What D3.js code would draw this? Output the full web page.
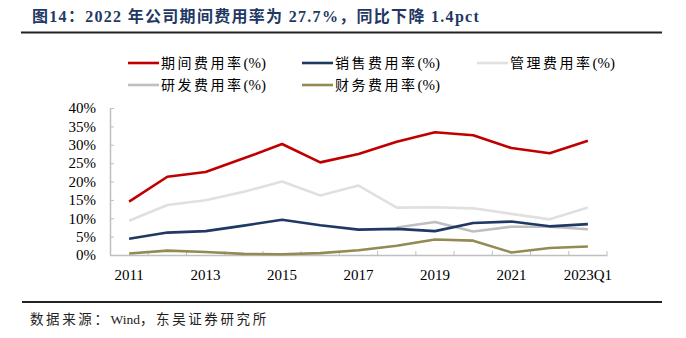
<!DOCTYPE html>
<html>
<head>
<meta charset="utf-8">
<script src="https://cdn.jsdelivr.net/npm/d3@7"></script>
<style>
  body { margin: 0; background: #fff; }
  svg { display: block; }
</style>
</head>
<body>
<div id="chart"></div>
<script>
// Data
const categories = ["2011", "2012", "2013", "2014", "2015", "2016", "2017", "2018", "2019", "2020", "2021", "2022", "2023Q1"];
const tickLabels = ["2011", "2013", "2015", "2017", "2019", "2021", "2023Q1"];
const yTicks = [0, 5, 10, 15, 20, 25, 30, 35, 40];

const periodRate = [14.5, 21.3, 22.6, 26.3, 30.2, 25.2, 27.5, 30.8, 33.4, 32.6, 29.1, 27.7, 31.1];
const salesRate = [4.4, 6.1, 6.5, 8.0, 9.6, 8.1, 6.9, 7.1, 6.5, 8.7, 9.1, 7.8, 8.4];
const mgmtRate = [9.3, 13.6, 14.9, 17.2, 20.0, 16.2, 18.9, 12.9, 13.0, 12.7, 11.2, 9.7, 12.9];
const rdRate = [null, null, null, null, null, null, null, 7.5, 9.0, 6.4, 7.7, 7.7, 7.0];
const finRate = [0.4, 1.2, 0.8, 0.3, 0.2, 0.5, 1.3, 2.5, 4.2, 3.9, 0.7, 1.9, 2.3];

const series = [
  { name: "期间费用率", values: periodRate, color: "#c00000" },
  { name: "销售费用率", values: salesRate, color: "#1f3864" },
  { name: "管理费用率", values: mgmtRate, color: "#e0e0e0" },
  { name: "研发费用率", values: rdRate, color: "#bfbfbf" },
  { name: "财务费用率", values: finRate, color: "#948a54" }
];

const W = 686, H = 338;
const serif = "'Liberation Serif', 'Noto Sans CJK SC', serif";
const cjk = "'Liberation Serif', 'Noto Sans CJK SC', sans-serif";

const svg = d3.select("#chart").append("svg")
  .attr("width", W)
  .attr("height", H);

// Title and rules
svg.append("text")
  .attr("x", 32).attr("y", 22)
  .attr("fill", "#1f3864")
  .style("font-family", cjk)
  .style("font-weight", "bold")
  .style("font-size", "16px")
  .style("letter-spacing", "1.3px")
  .text("图14：2022 年公司期间费用率为 27.7%，同比下降 1.4pct");

svg.append("line")
  .attr("x1", 21).attr("x2", 662).attr("y1", 32.5).attr("y2", 32.5)
  .attr("stroke", "#222").attr("stroke-width", 2);

svg.append("line")
  .attr("x1", 22).attr("x2", 662).attr("y1", 302).attr("y2", 302)
  .attr("stroke", "#222").attr("stroke-width", 2);

const src = svg.append("text")
  .attr("x", 30).attr("y", 324)
  .attr("fill", "#222")
  .style("font-family", cjk)
  .style("font-size", "13.5px");
src.append("tspan").style("letter-spacing", "2.6px").text("数据来源：");
src.append("tspan").text("Wind");
src.append("tspan").style("letter-spacing", "2.6px").text("，东吴证券研究所");

// Plot area
const margin = { left: 110, right: 79, top: 108, bottom: 83 };
const x = d3.scaleBand()
  .domain(categories)
  .range([margin.left, W - margin.right]);

const y = d3.scaleLinear()
  .domain([0, 40])
  .range([H - margin.bottom, margin.top]);

const xAxis = d3.axisBottom(x)
  .tickValues(tickLabels)
  .tickSize(0)
  .tickPadding(14);

const gx = svg.append("g")
  .attr("transform", `translate(0,${y(0)})`)
  .call(xAxis);
gx.select(".domain").attr("stroke", "#bfbfbf").attr("stroke-width", 1.5);
gx.selectAll("text")
  .attr("fill", "#000")
  .style("font-family", serif)
  .style("font-size", "15px");

// tick marks between categories, pointing up
svg.append("g")
  .selectAll("line")
  .data(categories)
  .join("line")
  .attr("x1", d => x(d) + x.bandwidth())
  .attr("x2", d => x(d) + x.bandwidth())
  .attr("y1", y(0))
  .attr("y2", y(0) - 4)
  .attr("stroke", "#bfbfbf");

const yAxis = d3.axisLeft(y)
  .tickValues(yTicks)
  .tickFormat(d => d + "%")
  .tickSizeInner(-4)
  .tickSizeOuter(0)
  .tickPadding(14);

const gy = svg.append("g")
  .attr("transform", `translate(${margin.left},0)`)
  .call(yAxis);
gy.select(".domain").attr("stroke", "#bfbfbf").attr("stroke-width", 1.5);
gy.selectAll(".tick line").attr("stroke", "#bfbfbf");
gy.selectAll("text")
  .attr("fill", "#000")
  .style("font-family", serif)
  .style("font-size", "15px");

// Lines
const line = d3.line()
  .defined(d => d.v != null)
  .x(d => x(d.c) + x.bandwidth() / 2)
  .y(d => y(d.v));

const drawOrder = [2, 3, 1, 4, 0];
svg.append("g")
  .selectAll("path")
  .data(drawOrder.map(i => series[i]))
  .join("path")
  .attr("fill", "none")
  .attr("stroke", s => s.color)
  .attr("stroke-width", 2.6)
  .attr("stroke-linejoin", "round")
  .attr("d", s => line(s.values.map((v, i) => ({ c: categories[i], v }))));

// Legend
const legendPos = [
  { x: 128, y: 63 }, { x: 302, y: 63 }, { x: 477, y: 63 },
  { x: 128, y: 85 }, { x: 302, y: 85 }
];
const lg = svg.append("g")
  .selectAll("g")
  .data(series)
  .join("g")
  .attr("transform", (s, i) => `translate(${legendPos[i].x},${legendPos[i].y})`);
lg.append("line")
  .attr("x1", 0).attr("x2", 31)
  .attr("stroke", s => s.color)
  .attr("stroke-width", 2.6);
const lt = lg.append("text")
  .attr("x", 33).attr("y", 5)
  .attr("fill", "#000")
  .style("font-family", cjk)
  .style("font-size", "14px");
lt.append("tspan").style("letter-spacing", "2.5px").text(s => s.name);
lt.append("tspan").style("font-size", "15px").text("(%)");
</script>
</body>
</html>
